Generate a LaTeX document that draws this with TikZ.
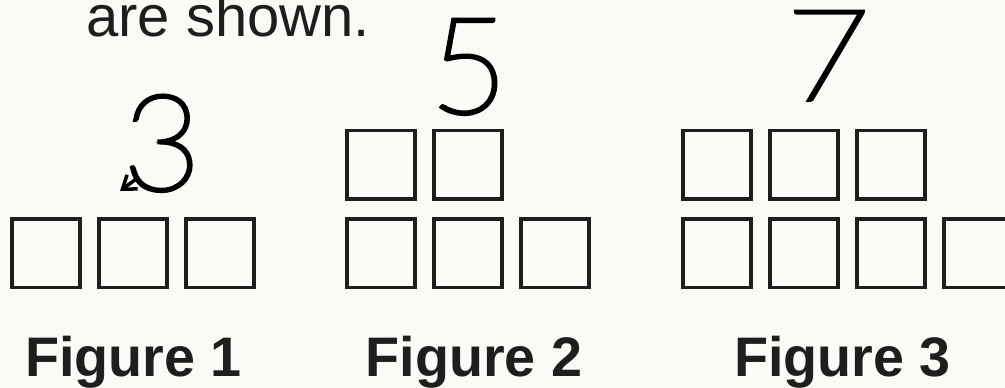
\documentclass[tikz,border=0pt]{standalone}
\usepackage{fontspec}
\setmainfont{Liberation Sans}
\newfontfamily\handfont{Lato Thin}[FakeBold=3]
\usetikzlibrary{positioning,calc,arrows.meta}
\definecolor{paper}{RGB}{251,250,246}
\definecolor{ink}{RGB}{30,30,30}

\begin{document}
\begin{tikzpicture}[x=0.02cm, y=-0.02cm,
    cell/.style={rectangle, draw=ink, line width=2pt, minimum size=1.37cm, inner sep=0pt},
    figlabel/.style={anchor=base, inner sep=0pt, text=ink, font=\fontsize{31.7}{36}\selectfont\bfseries},
    tally/.style={anchor=base, inner sep=0pt, text=black, font=\handfont\fontsize{76}{80}\selectfont}]
    % Page
    \fill[paper] (0,0) rectangle (1005,388);
    \useasboundingbox (0,0) rectangle (1005,388);

    % Text above
    \node (intro) [anchor=base west, inner sep=0pt, text=ink, font=\fontsize{33}{40}\selectfont] at (86,37) {are shown.};

    % Figure 1
    \node (f1a) [cell] at (46,253.5) {};
    \node (f1b) [cell, right=0.3cm of f1a] {};
    \node (f1c) [cell, right=0.3cm of f1b] {};

    % Figure 2
    \node (f2a) [cell] at (381,253.5) {};
    \node (f2b) [cell, right=0.3cm of f2a] {};
    \node (f2c) [cell, right=0.3cm of f2b] {};
    \node (f2d) [cell, above=0.34cm of f2a] {};
    \node (f2e) [cell, above=0.34cm of f2b] {};

    % Figure 3
    \node (f3a) [cell] at (717,253.5) {};
    \node (f3b) [cell, right=0.3cm of f3a] {};
    \node (f3c) [cell, right=0.3cm of f3b] {};
    \node (f3d) [cell, right=0.3cm of f3c] {};
    \node (f3e) [cell, above=0.34cm of f3a] {};
    \node (f3f) [cell, above=0.34cm of f3b] {};
    \node (f3g) [cell, above=0.34cm of f3c] {};

    % Captions
    \node (lab1) [figlabel] at (133.5,377) {Figure 1};
    \node (lab2) [figlabel] at (474,377) {Figure 2};
    \node (lab3) [figlabel] at (842.5,377) {Figure 3};

    % Handwritten counts
    \node (n3) [tally] at (162,190) {3};
    \node (n5) [tally] at (469,113) {5};
    \node (n7) [tally, xscale=1.15, font=\handfont\fontsize{72}{76}\selectfont] at (828,100) {7};

    \coordinate (tip3) at (120,191);
    \draw [-{Straight Barb[length=7pt,width=10pt]}, line width=2pt, black] ($(n3.south west)+(14,-13)$) -- (tip3);
\end{tikzpicture}
\end{document}
